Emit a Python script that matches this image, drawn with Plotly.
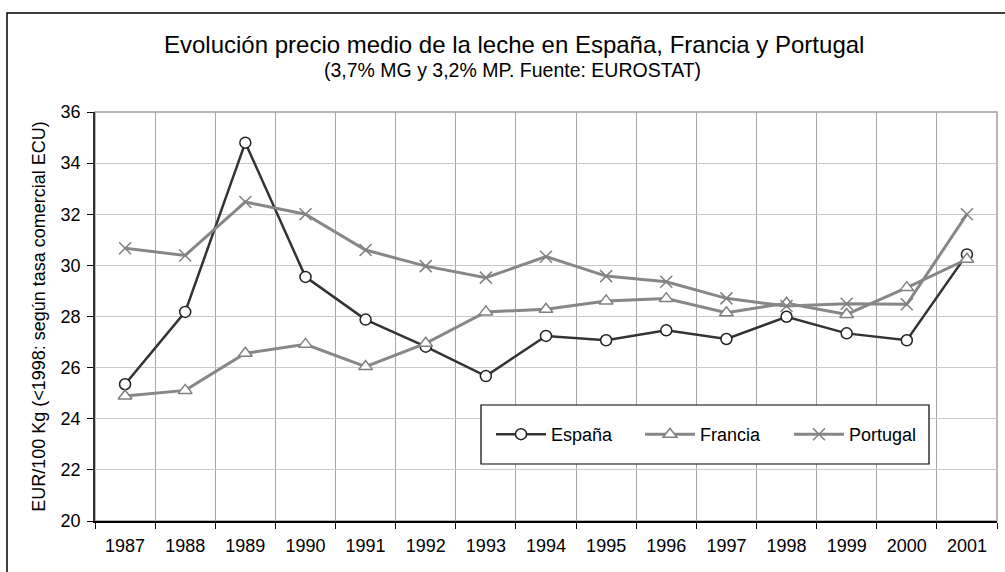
import plotly.graph_objects as go

years = [1987, 1988, 1989, 1990, 1991, 1992, 1993, 1994, 1995, 1996, 1997, 1998, 1999, 2000, 2001]
espana = [25.35, 28.18, 34.8, 29.55, 27.88, 26.82, 25.67, 27.24, 27.07, 27.46, 27.12, 27.99, 27.34, 27.07, 30.43]
francia = [24.89, 25.11, 26.56, 26.91, 26.04, 26.95, 28.18, 28.28, 28.61, 28.70, 28.15, 28.52, 28.08, 29.13, 30.24]
portugal = [30.67, 30.39, 32.48, 32.0, 30.6, 29.97, 29.52, 30.34, 29.58, 29.36, 28.71, 28.41, 28.5, 28.48, 32.0]
tick_labels = [str(y) for y in years]

FONT = "Liberation Sans, Arial, sans-serif"
L, R, T, B = 95, 8, 112, 51
W, H = 1005, 572
PW, PH = W - L - R, H - T - B

def px(x):
    return (x - L) / PW

def py(y):
    return (H - B - y) / PH

fig = go.Figure()
fig.add_trace(go.Scatter(
    x=years, y=espana, name="España", mode="lines+markers",
    line=dict(color="#333333", width=2.5),
    marker=dict(symbol="circle", size=11, color="white", line=dict(color="#222222", width=1.5)),
))
fig.add_trace(go.Scatter(
    x=years, y=francia, name="Francia", mode="lines+markers",
    line=dict(color="#878787", width=3),
    marker=dict(symbol="triangle-up", size=12, color="white", line=dict(color="#808080", width=1.5)),
))
fig.add_trace(go.Scatter(
    x=years, y=portugal, name="Portugal", mode="lines+markers",
    line=dict(color="#878787", width=3),
    marker=dict(symbol="x-thin-open", size=12, color="#808080", line=dict(color="#808080", width=1.5)),
))

fig.update_layout(
    width=W, height=H,
    margin=dict(l=L, r=R, t=T, b=B),
    paper_bgcolor="white", plot_bgcolor="white",
    font=dict(family=FONT, size=18, color="black"),
    showlegend=True,
    legend=dict(
        orientation="h", x=px(491), y=py(434.5), xanchor="left", yanchor="middle",
        borderwidth=0, bgcolor="rgba(0,0,0,0)",
        font=dict(size=18, family=FONT),
        itemwidth=50, entrywidth=84, entrywidthmode="pixels",
    ),
    xaxis=dict(
        range=[1986.5, 2001.5], tickvals=years, ticktext=tick_labels,
        showgrid=False, ticks="", showline=True, linecolor="black", linewidth=1.5,
        zeroline=False, tickfont=dict(size=18), ticklabelstandoff=8,
        minor=dict(tick0=1986.5, dtick=1, showgrid=True, gridcolor="#a6a6a6", gridwidth=1,
                   ticks="outside", ticklen=6, tickcolor="black", tickwidth=1),
    ),
    yaxis=dict(
        range=[20, 36], dtick=2, tick0=20, showgrid=True, gridcolor="#c8c8c8", gridwidth=1,
        ticks="outside", ticklen=6, tickcolor="black", showline=True, linecolor="#333333",
        linewidth=1.5, zeroline=False, tickfont=dict(size=18), ticklabelstandoff=3,
        title=dict(text="EUR/100 Kg (<1998: según tasa comercial ECU)", font=dict(size=18), standoff=10),
    ),
    shapes=[
        dict(type="rect", xref="paper", yref="paper", x0=0, x1=1, y0=0, y1=1,
             line=dict(color="#a0a0a0", width=1.5), layer="below"),
        dict(type="rect", xref="paper", yref="paper", x0=px(7), x1=px(1012), y0=py(580), y1=py(13),
             line=dict(color="black", width=1.5), layer="below"),
        dict(type="rect", xref="paper", yref="paper", x0=px(481), x1=px(929), y0=py(464), y1=py(405),
             line=dict(color="black", width=1.2), fillcolor="white", layer="above"),
    ],
    annotations=[
        dict(text="Evolución precio medio de la leche en España, Francia y Portugal",
             xref="paper", yref="paper", x=px(514), y=py(45), xanchor="center", yanchor="middle",
             showarrow=False, font=dict(size=24, family=FONT)),
        dict(text="(3,7% MG y 3,2% MP. Fuente: EUROSTAT)",
             xref="paper", yref="paper", x=px(512), y=py(70), xanchor="center", yanchor="middle",
             showarrow=False, font=dict(size=19.5, family=FONT)),
    ],
)

fig.write_html("out.html", config={"displayModeBar": False},
               post_script="document.body.style.margin='0px';document.body.style.overflow='hidden';")
